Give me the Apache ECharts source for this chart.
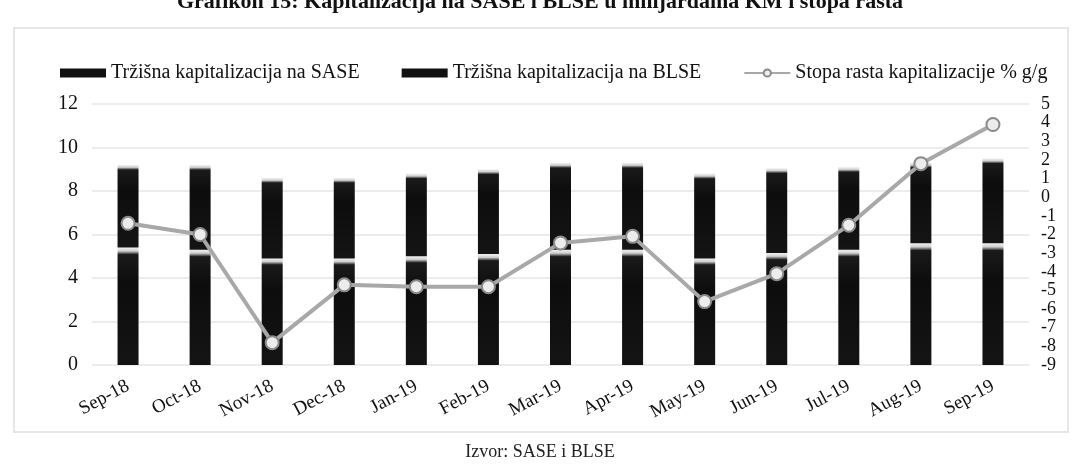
<!DOCTYPE html>
<html>
<head>
<meta charset="utf-8">
<script src="https://cdn.jsdelivr.net/npm/echarts@6/dist/echarts.min.js"></script>
<style>
  html, body { margin: 0; padding: 0; background: #fff; }
  #chart { width: 1080px; height: 464px; }
</style>
</head>
<body>
<div id="chart"></div>
<script>
// podaci
const months = ['Sep-18', 'Oct-18', 'Nov-18', 'Dec-18', 'Jan-19', 'Feb-19', 'Mar-19',
  'Apr-19', 'May-19', 'Jun-19', 'Jul-19', 'Aug-19', 'Sep-19'];
const sase = [5.4, 5.3, 4.9, 4.9, 5.0, 5.1, 5.3, 5.3, 4.9, 5.15, 5.3, 5.6, 5.6];
const blse = [3.8, 3.9, 3.7, 3.7, 3.8, 3.9, 4.0, 4.0, 3.9, 3.9, 3.8, 3.7, 3.9];
const stopa = [-1.4, -2.0, -7.8, -4.7, -4.8, -4.8, -2.45, -2.1, -5.6, -4.1, -1.5, 1.8, 3.9];
const leftTicks = [0, 2, 4, 6, 8, 10, 12];
const rightTicks = [-9, -8, -7, -6, -5, -4, -3, -2, -1, 0, 1, 2, 3, 4, 5];

const serif = '"Liberation Serif", "DejaVu Serif", serif';
const chart = echarts.init(document.getElementById('chart'));

// crni stupac sa svijetlim vrhom
function barFill() {
  return new echarts.graphic.LinearGradient(0, 0, 0, 1, [
    { offset: 0, color: '#f2f2f2' },
    { offset: 0.03, color: '#cfcfcf' },
    { offset: 0.06, color: '#1a1a1a' },
    { offset: 0.3, color: '#0d0d0d' },
    { offset: 1, color: '#141414' }
  ]);
}

const option = {
  animation: false,
  backgroundColor: '#fff',
  title: {
    text: 'Grafikon 15: Kapitalizacija na SASE i BLSE u milijardama KM i stopa rasta',
    left: 'center',
    top: -14,
    textStyle: { fontFamily: serif, fontSize: 22, fontWeight: 'bold', color: '#111' }
  },
  graphic: [
    {
      type: 'rect',
      shape: { x: 14, y: 28, width: 1054, height: 404 },
      style: { fill: 'none', stroke: '#e6e6e6', lineWidth: 2 },
      silent: true
    },
    {
      type: 'text',
      left: 'center',
      top: 443,
      style: { text: 'Izvor: SASE i BLSE', font: '18px ' + serif, fill: '#222' }
    }
  ],
  legend: {
    left: 55,
    top: 58,
    itemWidth: 46,
    itemHeight: 9,
    itemGap: 42,
    textStyle: { fontFamily: serif, fontSize: 20, color: '#111' },
    data: [
      { name: 'Tržišna kapitalizacija na SASE', icon: 'rect', itemStyle: { color: '#111' } },
      { name: 'Tržišna kapitalizacija na BLSE', icon: 'rect', itemStyle: { color: '#111' } },
      { name: 'Stopa rasta kapitalizacije % g/g' }
    ]
  },
  grid: { left: 92, right: 51, top: 104, bottom: 99 },
  xAxis: {
    type: 'category',
    data: months,
    axisLine: { show: false },
    axisTick: { show: false },
    axisLabel: {
      rotate: 28,
      margin: 20,
      fontFamily: serif,
      fontSize: 19,
      color: '#111'
    }
  },
  yAxis: [
    {
      type: 'value',
      min: leftTicks[0],
      max: leftTicks[leftTicks.length - 1],
      interval: 2,
      axisLine: { show: false },
      axisTick: { show: false },
      axisLabel: { margin: 14, fontFamily: serif, fontSize: 20, color: '#111' },
      splitLine: { lineStyle: { color: '#ececec', width: 2 } }
    },
    {
      type: 'value',
      min: rightTicks[0],
      max: rightTicks[rightTicks.length - 1],
      interval: 1,
      axisLine: { show: false },
      axisTick: { show: false },
      axisLabel: {
        margin: 12, fontFamily: serif, fontSize: 18, color: '#111', lineHeight: 17,
        showMinLabel: true, showMaxLabel: true, hideOverlap: false
      },
      splitLine: { show: false }
    }
  ],
  series: [
    {
      name: 'Tržišna kapitalizacija na SASE',
      type: 'bar',
      stack: 'kap',
      data: sase,
      barWidth: 21,
      itemStyle: { color: barFill() }
    },
    {
      name: 'Tržišna kapitalizacija na BLSE',
      type: 'bar',
      stack: 'kap',
      data: blse,
      barWidth: 21,
      itemStyle: { color: barFill() }
    },
    {
      name: 'Stopa rasta kapitalizacije % g/g',
      type: 'line',
      yAxisIndex: 1,
      data: stopa,
      symbol: 'circle',
      symbolSize: 13,
      lineStyle: { color: '#a8a8a8', width: 4 },
      itemStyle: { color: '#ececec', borderColor: '#8a8a8a', borderWidth: 2 },
      z: 5
    }
  ]
};

chart.setOption(option);
</script>
</body>
</html>
